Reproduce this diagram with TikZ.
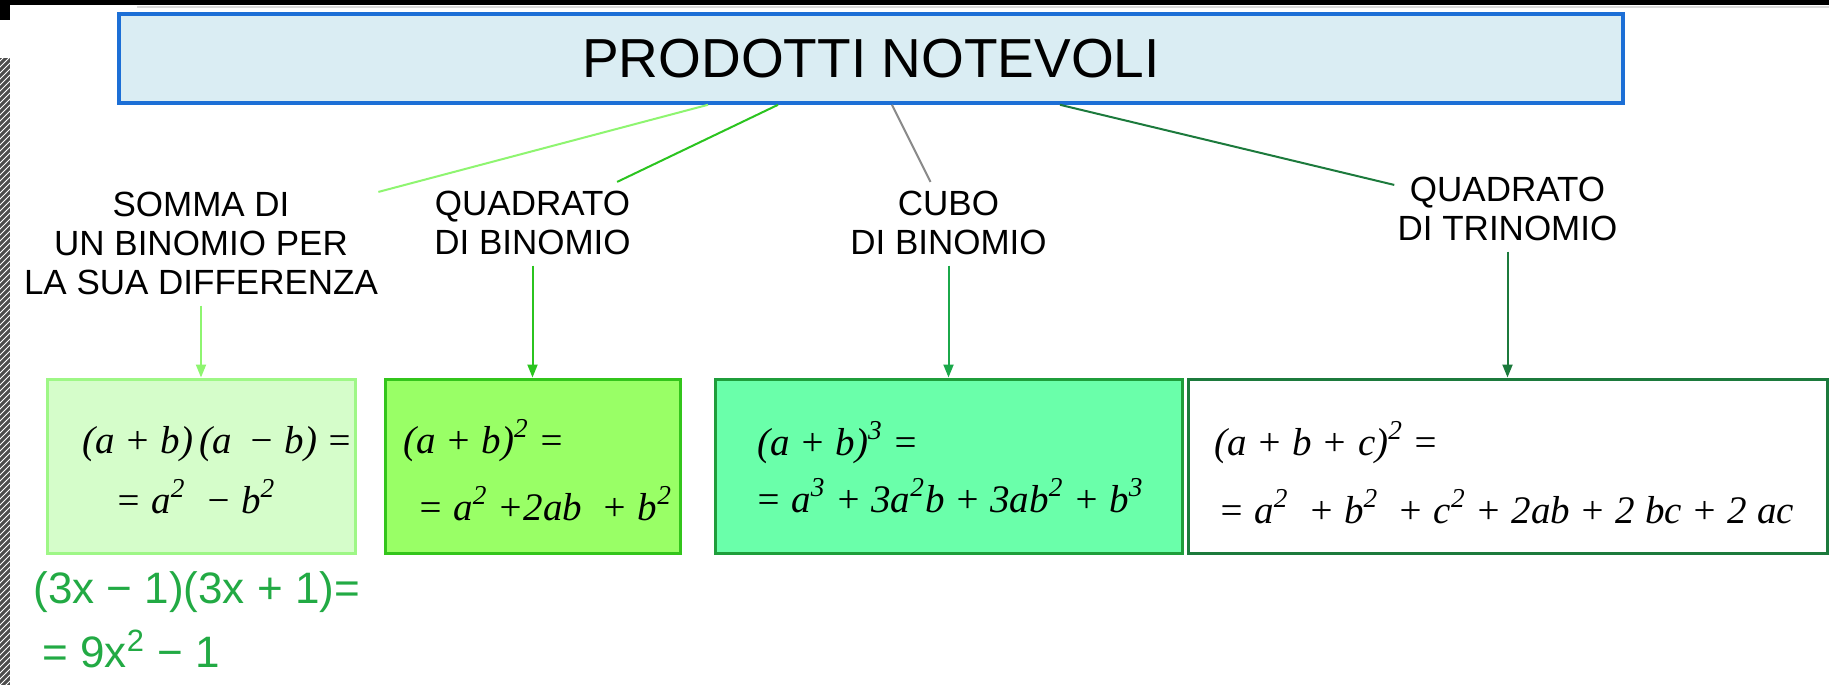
\documentclass[tikz,border=0pt]{standalone}
\usepackage{fontspec}
\setmainfont{Liberation Sans}
\newfontfamily\frmfont{Liberation Serif}
\usetikzlibrary{positioning,arrows.meta,patterns}

\definecolor{titlefill}{HTML}{DAEDF3}
\definecolor{titleline}{HTML}{1C6FD6}
\definecolor{lgreen}{HTML}{8EF570}
\definecolor{mgreen}{HTML}{2BC41F}
\definecolor{cgreen}{HTML}{1BA84A}
\definecolor{dgreen}{HTML}{1C7A3C}
\definecolor{linkgrey}{HTML}{8A8A8A}
\definecolor{boxafill}{HTML}{D5FDCA}
\definecolor{boxaline}{HTML}{9EF786}
\definecolor{boxbfill}{HTML}{99FF66}
\definecolor{boxbline}{HTML}{33C51B}
\definecolor{boxcfill}{HTML}{6AFFAA}
\definecolor{boxcline}{HTML}{1F9E3B}
\definecolor{handgreen}{HTML}{22AA44}

\tikzset{
  box/.style={draw, line width=1.5pt, minimum height=87pt, inner sep=0pt},
  lbl/.style={font=\fontsize{17.5}{19.5}\selectfont, align=center, inner sep=0pt},
  frm/.style={font=\fontsize{19.5}{22}\selectfont\frmfont\itshape, inner sep=0pt, anchor=base west},
  hand/.style={font=\fontsize{22}{26}\selectfont, text=handgreen, inner sep=0pt, anchor=base west},
  link/.style={line width=1pt},
  arr/.style={line width=1pt, -{Triangle[length=6.5pt,width=5pt]}, shorten <=5pt},
}

\begin{document}
\begin{tikzpicture}[x=0.5pt,y=-0.5pt]
  \useasboundingbox (0,0) rectangle (1829,685);
  \fill[white] (0,0) rectangle (1829,685);
  % screen edges
  \fill[black] (0,0) rectangle (1829,5);
  \fill[black] (0,0) rectangle (10,20);
  \draw[black!15, line width=1pt] (137,6.5) -- (1829,6.5);
  \fill[black!70] (0,58) rectangle (10,685);
  \fill[pattern=north east lines, pattern color=white] (0,58) rectangle (10,685);

  % title
  \node[draw=titleline, fill=titlefill, line width=1.8pt, minimum width=752pt,
    minimum height=44.5pt, font=\fontsize{27.5}{33}\selectfont] (title) at (871,58.5) {PRODOTTI NOTEVOLI};

  % boxes
  \node[box, draw=boxaline, fill=boxafill, minimum width=154pt] (b1) at (201,466) {};
  \node[box, draw=boxbline, fill=boxbfill, minimum width=147.5pt] (b2) at (532.5,466) {};
  \node[box, draw=boxcline, fill=boxcfill, minimum width=233.5pt] (b3) at (948.5,466) {};
  \node[box, draw=dgreen, fill=white, minimum width=319.5pt] (b4) at (1507.5,466) {};

  % labels
  \node[lbl, above=41pt of b1] (l1) {SOMMA DI\\UN BINOMIO PER\\LA SUA DIFFERENZA};
  \node[lbl, above=61pt of b2] (l2) {QUADRATO\\DI BINOMIO};
  \node[lbl, above=61pt of b3] (l3) {CUBO\\DI BINOMIO};
  \node[lbl, above=68pt of b4] (l4) {QUADRATO\\DI TRINOMIO};

  % links from the title
  \draw[link, lgreen] ([xshift=-81.5pt]title.south) -- (l1.north east);
  \draw[link, mgreen] ([xshift=-46.5pt]title.south) -- ([xshift=-7pt,yshift=4.5pt]l2.north east);
  \draw[link, linkgrey] ([xshift=10.5pt]title.south) -- ([xshift=-9pt,yshift=4.5pt]l3.north);
  \draw[link, dgreen] ([xshift=94.5pt]title.south) -- ([xshift=-1.5pt,yshift=-4pt]l4.north west);

  % arrows to the formulas
  \draw[arr, lgreen] (l1) -- (b1);
  \draw[arr, mgreen] (l2) -- (b2);
  \draw[arr, cgreen] (l3) -- (b3);
  \draw[arr, dgreen] (l4) -- (b4);

  % formulas
  \node[frm] (f1a) at (82,453) {(a + b)\,(a\, − b) =};
  \node[frm] (f1b) at (115,513) {= a\textsuperscript{2}\enspace − b\textsuperscript{2}};
  \node[frm] (f2a) at (403,453) {(a + b)\textsuperscript{2} =};
  \node[frm] (f2b) at (417,520) {= a\textsuperscript{2} +2ab\enspace + b\textsuperscript{2}};
  \node[frm] (f3a) at (757,455) {(a + b)\textsuperscript{3} =};
  \node[frm] (f3b) at (755,512) {= a\textsuperscript{3} + 3a\textsuperscript{2}b + 3ab\textsuperscript{2} + b\textsuperscript{3}};
  \node[frm] (f4a) at (1214,455) {(a + b + c)\textsuperscript{2} =};
  \node[frm] (f4b) at (1218,523) {= a\textsuperscript{2}\enspace + b\textsuperscript{2}\enspace + c\textsuperscript{2} + 2ab + 2 bc + 2 ac};

  % worked example
  \node[hand] (h1) at (33,603) {(3x − 1)(3x + 1)=};
  \node[hand] (h2) at (42,667) {= 9x\textsuperscript{2} − 1};
\end{tikzpicture}
\end{document}
